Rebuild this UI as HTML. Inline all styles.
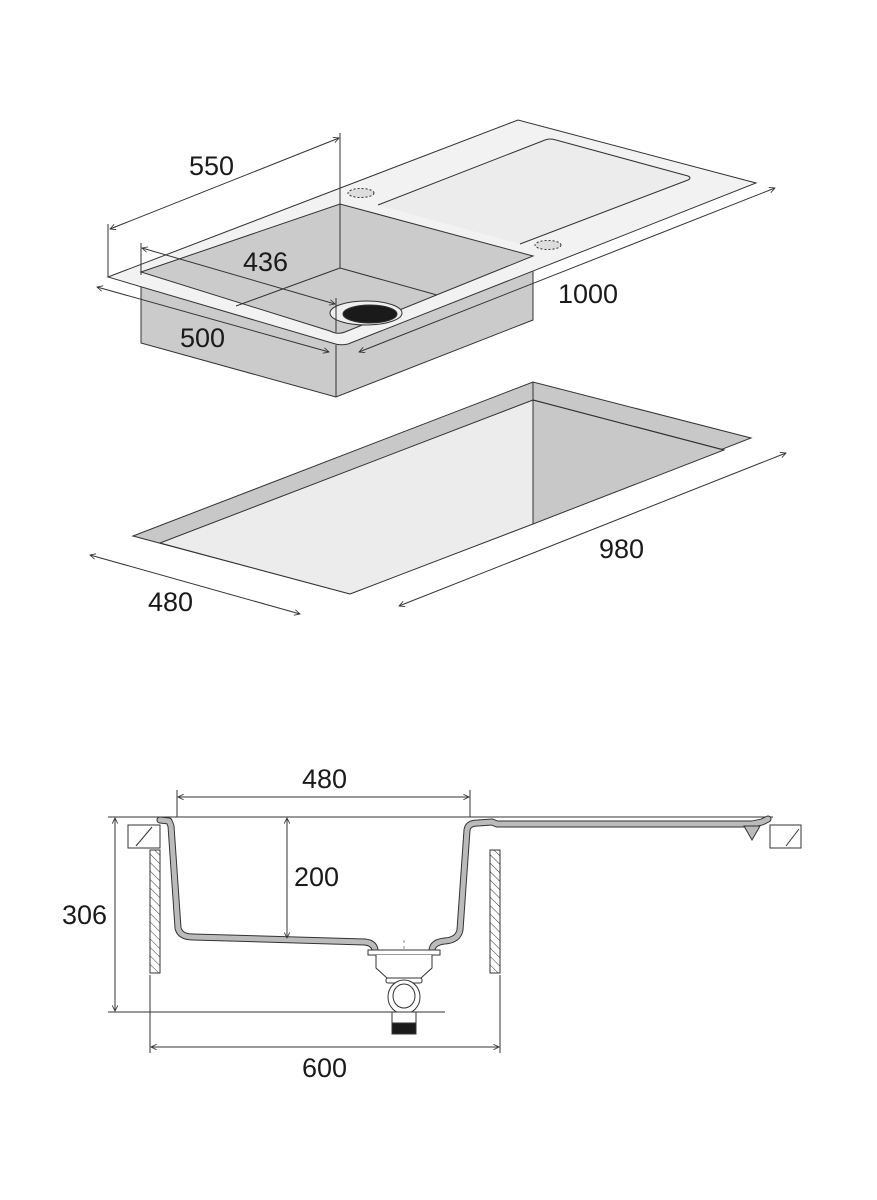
<!DOCTYPE html>
<html><head><meta charset="utf-8"><style>
html,body{margin:0;padding:0;background:#fff;}
svg{display:block;}
text{font-family:"Liberation Sans Narrow","Liberation Sans",sans-serif;font-size:27px;fill:#1a1a1a;}
</style></head><body>
<svg width="877" height="1200" viewBox="0 0 877 1200" xmlns="http://www.w3.org/2000/svg">
<defs>
<marker id="a" viewBox="0 0 10 10" refX="9" refY="5" markerWidth="7" markerHeight="7" orient="auto-start-reverse"><path d="M1,1 L9,5 L1,9" fill="none" stroke="#333" stroke-width="1.2"/></marker>
<pattern id="h" width="6" height="6" patternUnits="userSpaceOnUse" patternTransform="rotate(-45)"><line x1="0" y1="0" x2="0" y2="6" stroke="#333" stroke-width="1"/></pattern>
</defs>
<g stroke="#333" stroke-width="1" fill="none">
<!-- bowl box -->
<path d="M141,286 L141,343 L336,397 L533,320 L533,262 Z" fill="#cbcbcb"/>
<line x1="336" y1="345" x2="336" y2="397"/>
<!-- deck -->
<path d="M108,277 L518,120 L756,183 L348,344 Q340,346 332,343 Z" fill="#f2f2f2"/>
<!-- bowl opening -->
<path d="M141,272 L340,204 L533,256 L345,332 Q338,335 330,331 Z" fill="#cbcbcb"/>
<line x1="340" y1="204" x2="340" y2="268"/>
<line x1="236" y1="306" x2="340" y2="268"/>
<line x1="340" y1="268" x2="437" y2="295"/>
<ellipse cx="366" cy="313" rx="36" ry="12" fill="#efefef"/>
<ellipse cx="370" cy="314" rx="27" ry="9" fill="#1a1a1a"/>
<!-- drainboard -->
<path d="M378,205 L545,140 Q550,138 556,140 L688,176 Q692,178 688,180 L520,244" fill="#ececec"/>
<ellipse cx="361" cy="193" rx="13" ry="4.5" fill="#ddd" stroke-dasharray="2,2"/>
<ellipse cx="548" cy="245" rx="13" ry="4.5" fill="#ddd" stroke-dasharray="2,2"/>
<!-- dims top -->
<line x1="108" y1="224" x2="108" y2="277"/>
<line x1="340" y1="133" x2="340" y2="204"/>
<line x1="110" y1="229" x2="339" y2="138" marker-start="url(#a)" marker-end="url(#a)"/>
<line x1="141" y1="243" x2="141" y2="275"/>
<line x1="142" y1="248" x2="335" y2="304" marker-start="url(#a)" marker-end="url(#a)"/>
<line x1="336" y1="298" x2="336" y2="332"/>
<line x1="97" y1="287" x2="329" y2="352" marker-start="url(#a)" marker-end="url(#a)"/>
<line x1="359" y1="352" x2="775" y2="188" marker-start="url(#a)" marker-end="url(#a)"/>
<!-- cutout -->
<path d="M133,536 L533,382 L751,438 L350,594 Z" fill="#c8c8c8"/>
<path d="M160,543 L533,400 L533,524 L350,594 Z" fill="#ececec"/>
<path d="M533,400 L724,450 L533,524 Z" fill="#c8c8c8"/>
<line x1="533" y1="382" x2="533" y2="524"/>
<line x1="533" y1="400" x2="724" y2="450"/>
<line x1="90" y1="555" x2="300" y2="614" marker-start="url(#a)" marker-end="url(#a)"/>
<line x1="399" y1="606" x2="786" y2="453" marker-start="url(#a)" marker-end="url(#a)"/>
<!-- section -->
<line x1="108" y1="817" x2="773" y2="817"/>
<rect x="128" y="825" width="32" height="23" fill="#fff"/><line x1="136" y1="846" x2="152" y2="827"/>
<rect x="770" y="825" width="31" height="23" fill="#fff"/><line x1="786" y1="846" x2="799" y2="829"/>
<rect x="150" y="850" width="10" height="123" fill="url(#h)"/>
<rect x="490" y="850" width="10" height="123" fill="url(#h)"/>
<path id="prof" d="M160,820 L169,821 L171,826 L178,928 Q180,937 193,937 L365,942 Q374,943 375,950 M432,950 Q433,942 445,941 Q458,940 460,930 L467,830 Q468,823 478,823 L492,822 L497,824 L752,824 L762,822 L768,819" stroke="#333" stroke-width="7" stroke-linecap="round" stroke-linejoin="round"/>
<path d="M160,820 L169,821 L171,826 L178,928 Q180,937 193,937 L365,942 Q374,943 375,950 M432,950 Q433,942 445,941 Q458,940 460,930 L467,830 Q468,823 478,823 L492,822 L497,824 L752,824 L762,822 L768,819" stroke="#bbb" stroke-width="5" stroke-linecap="round" stroke-linejoin="round"/>
<path d="M744,826 L760,826 L752,840 Z" fill="#bbb"/>
<line x1="404" y1="940" x2="404" y2="1000" stroke-dasharray="3,3" stroke="#888"/>
<rect x="368" y="950" width="72" height="5" fill="#fff"/>
<path d="M376,955 L376,968 L387,978 L421,978 L432,968 L432,955" fill="#fff"/>
<rect x="386" y="978" width="36" height="5" rx="2" fill="#fff"/>
<ellipse cx="404" cy="997" rx="16" ry="17" fill="#fff"/>
<ellipse cx="404" cy="996" rx="11" ry="12"/>
<rect x="392" y="1012" width="24" height="22" fill="#fff"/>
<rect x="392" y="1023" width="24" height="11" fill="#1a1a1a"/>
<line x1="177" y1="790" x2="177" y2="817"/><line x1="470" y1="790" x2="470" y2="817"/>
<line x1="178" y1="797" x2="469" y2="797" marker-start="url(#a)" marker-end="url(#a)"/>
<line x1="287" y1="818" x2="287" y2="938" marker-start="url(#a)" marker-end="url(#a)"/>
<line x1="108" y1="1012" x2="445" y2="1012"/>
<line x1="115" y1="818" x2="115" y2="1011" marker-start="url(#a)" marker-end="url(#a)"/>
<line x1="150" y1="975" x2="150" y2="1053"/><line x1="500" y1="975" x2="500" y2="1053"/>
<line x1="151" y1="1047" x2="499" y2="1047" marker-start="url(#a)" marker-end="url(#a)"/>
</g>
<text x="189" y="175">550</text>
<text x="243" y="271">436</text>
<text x="180" y="347">500</text>
<text x="558" y="303">1000</text>
<text x="599" y="558">980</text>
<text x="148" y="611">480</text>
<text x="302" y="788">480</text>
<text x="294" y="886">200</text>
<text x="62" y="924">306</text>
<text x="302" y="1077">600</text>
</svg>
</body></html>
